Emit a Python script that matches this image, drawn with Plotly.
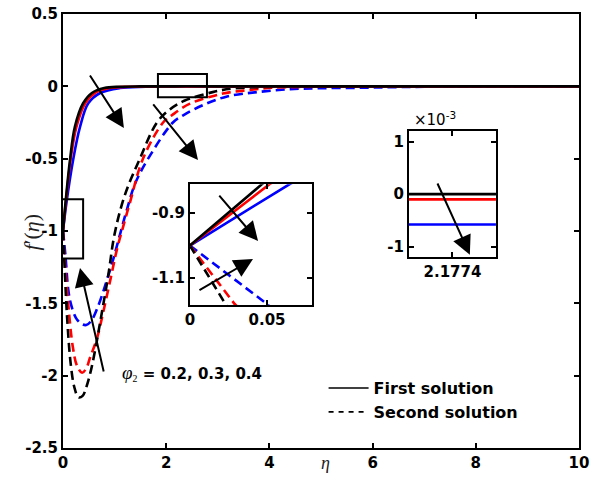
import plotly.graph_objects as go

# ---------------- data ----------------
# first solutions (solid)
eta_s_black = [0, 0.047, 0.135, 0.23, 0.39, 0.56, 0.8, 1.1, 1.5, 2.1774, 3, 10]
f_s_black = [-1.0, -0.81, -0.51, -0.28, -0.117, -0.046, -0.012, -0.003, -0.0005, 0.0, 0.0, 0.0]
eta_s_red = [0, 0.052, 0.15, 0.26, 0.43, 0.62, 0.9, 1.3, 1.7, 2.1774, 3, 10]
f_s_red = [-1.0, -0.81, -0.5, -0.28, -0.117, -0.046, -0.012, -0.003, -0.0008, -0.0001, 0.0, 0.0]
eta_s_blue = [0, 0.065, 0.2, 0.33, 0.49, 0.72, 1.1, 1.6, 2.1774, 3, 4, 10]
f_s_blue = [-1.0, -0.81, -0.5, -0.28, -0.117, -0.046, -0.012, -0.003, -0.00058, -0.0001, 0.0, 0.0]

# second solutions (dashed)
eta_d_black = [0, 0.023, 0.08, 0.15, 0.22, 0.3, 0.38, 0.46, 0.55, 0.65, 0.75, 0.88,
               1.0, 1.2, 1.49, 1.82, 2.07, 2.35, 2.9, 3.3, 4.0, 5.0, 10]
f_d_black = [-1.0, -1.18, -1.6, -1.92, -2.08, -2.15, -2.14, -2.07, -1.95, -1.77, -1.57, -1.3,
             -1.02, -0.75, -0.5, -0.25, -0.16, -0.1, -0.04, -0.015, -0.004, 0.0, 0.0]
eta_d_red = [0, 0.029, 0.1, 0.19, 0.27, 0.37, 0.45, 0.52, 0.66, 0.78, 0.91, 1.05,
             1.15, 1.3, 1.55, 1.94, 2.11, 2.46, 3.1, 3.62, 4.07, 5.0, 6.0, 10]
f_d_red = [-1.0, -1.18, -1.5, -1.8, -1.93, -1.98, -1.95, -1.88, -1.74, -1.56, -1.35, -1.12,
           -0.99, -0.8, -0.5, -0.25, -0.2, -0.12, -0.05, -0.025, -0.01, -0.002, 0.0, 0.0]
eta_d_blue = [0, 0.05, 0.1, 0.15, 0.25, 0.35, 0.45, 0.55, 0.68, 0.85, 0.97, 1.1, 1.24, 1.4,
              1.65, 2.13, 2.33, 2.71, 3.18, 3.76, 4.4, 5.0, 5.75, 6.5, 7.5, 10]
f_d_blue = [-1.0, -1.18, -1.4, -1.5, -1.6, -1.64, -1.65, -1.62, -1.52, -1.34, -1.2, -1.03, -0.85,
            -0.67, -0.5, -0.25, -0.2, -0.13, -0.07, -0.04, -0.02, -0.013, -0.01, -0.005, -0.002, 0.0]

main_x_ticks = [0, 2, 4, 6, 8, 10]
main_y_ticks = [0.5, 0, -0.5, -1, -1.5, -2, -2.5]
main_y_text = ["0.5", "0", "-0.5", "-1", "-1.5", "-2", "-2.5"]
in1_x_ticks = [0, 0.05]
in1_x_text = ["0", "0.05"]
in1_y_ticks = [-0.9, -1.1]
in1_y_text = ["-0.9", "-1.1"]
in2_x_ticks = [2.1774]
in2_x_text = ["2.1774"]
in2_y_ticks = [0.001, 0.0, -0.001]
in2_y_text = ["1", "0", "-1"]

# ---------------- styling ----------------
BOLD = dict(family="DejaVu Sans", size=15, color="black", weight="bold")
LW = 2.6
DASH = "9px,5px"

curves = [
    (eta_d_blue, f_d_blue, "blue", DASH),
    (eta_d_red, f_d_red, "red", DASH),
    (eta_d_black, f_d_black, "black", DASH),
    (eta_s_blue, f_s_blue, "blue", "solid"),
    (eta_s_red, f_s_red, "red", "solid"),
    (eta_s_black, f_s_black, "black", "solid"),
]

fig = go.Figure()
for xs, ys, col, dash in curves:
    fig.add_trace(go.Scatter(x=xs, y=ys, mode="lines", showlegend=False,
                             line=dict(color=col, width=LW, dash=dash, shape="spline"),
                             xaxis="x", yaxis="y"))
for xs, ys, col, dash in curves:
    fig.add_trace(go.Scatter(x=xs, y=ys, mode="lines", showlegend=False,
                             line=dict(color=col, width=LW, dash=dash),
                             xaxis="x2", yaxis="y2"))
for xs, ys, col, dash in curves:
    if dash == "solid":
        fig.add_trace(go.Scatter(x=xs, y=ys, mode="lines", showlegend=False,
                                 line=dict(color=col, width=LW),
                                 xaxis="x3", yaxis="y3"))

# legend entries
fig.add_trace(go.Scatter(x=[None], y=[None], mode="lines", name="First solution",
                         line=dict(color="black", width=1.5)))
fig.add_trace(go.Scatter(x=[None], y=[None], mode="lines", name="Second solution",
                         line=dict(color="black", width=1.8, dash="5px,5px")))

def axis_style(**kw):
    d = dict(showline=True, linecolor="black", linewidth=2, mirror="ticks",
             ticks="inside", ticklen=5, tickwidth=1.5, tickcolor="black",
             showgrid=False, zeroline=False, tickfont=BOLD, automargin=False)
    d.update(kw)
    return d

fig.update_layout(
    width=592, height=481,
    margin=dict(l=63, r=13, t=14, b=33, autoexpand=False),
    paper_bgcolor="white", plot_bgcolor="white",
    xaxis=axis_style(domain=[0, 1], range=[0, 10], tickvals=main_x_ticks, anchor="y"),
    yaxis=axis_style(domain=[0, 1], range=[-2.5, 0.5], tickvals=main_y_ticks,
                     ticktext=main_y_text, anchor="x"),
    xaxis2=axis_style(domain=[0.246, 0.4826], range=[0, 0.0792], tickvals=in1_x_ticks,
                      ticktext=in1_x_text, anchor="y2"),
    yaxis2=axis_style(domain=[0.3295, 0.608], range=[-1.183, -0.811], tickvals=in1_y_ticks,
                      ticktext=in1_y_text, anchor="x2"),
    xaxis3=axis_style(domain=[0.6705, 0.839], range=[2.1773, 2.1775], tickvals=in2_x_ticks,
                      ticktext=in2_x_text, anchor="y3"),
    yaxis3=axis_style(domain=[0.44, 0.73], range=[-0.0012, 0.0012], tickvals=in2_y_ticks,
                      ticktext=in2_y_text, anchor="x3"),
    showlegend=True,
    legend=dict(x=0.505, y=0.177, xanchor="left", yanchor="top",
                bgcolor="rgba(0,0,0,0)", itemwidth=40,
                font=dict(family="DejaVu Sans", size=16, color="black", weight="bold"),
                tracegroupgap=0, itemclick=False),
)

# zoom indicator rectangles
rects = [(-0.06, -1.19, 0.39, -0.78), (1.84, -0.075, 2.79, 0.085)]
for x0, y0, x1, y1 in rects:
    fig.add_shape(type="rect", xref="x", yref="y", x0=x0, y0=y0, x1=x1, y1=y1,
                  line=dict(color="black", width=2))

# arrows: (head_x, head_y, tail_x, tail_y, axis suffix)
arrows = [
    (1.18, -0.288, 0.504, 0.085, ""),
    (2.616, -0.509, 1.725, -0.115, ""),
    (0.329, -1.255, 0.795, -1.981, ""),
    (0.0442, -0.986, 0.0182, -0.8415, "2"),
    (0.0409, -1.0415, 0.0052, -1.14, "2"),
    (2.177440, -0.001154, 2.177364, 0.000231, "3"),
]
for hx, hy, tx, ty, s in arrows:
    fig.add_annotation(x=hx, y=hy, ax=tx, ay=ty, xref="x" + s, yref="y" + s,
                       axref="x" + s, ayref="y" + s, showarrow=True, text="",
                       arrowhead=2, arrowsize=1.9, arrowwidth=2, arrowcolor="black")

fig.add_annotation(x=1.105, y=-1.981, xref="x", yref="y", xanchor="left", showarrow=False,
                   text='<span style="font-family:Liberation Serif;font-weight:normal;font-size:19px"><i>φ</i></span>'
                        '<span style="font-family:Liberation Serif;font-weight:normal;font-size:14px"><sub>2</sub></span>'
                        '<b> = 0.2, 0.3, 0.4</b>',
                   font=dict(family="DejaVu Sans", size=15, color="black"))
fig.add_annotation(x=-0.0891, y=0.498, xref="paper", yref="paper", textangle=-90, showarrow=False,
                   text="<i>f</i>′(<i>η</i>)",
                   font=dict(family="Liberation Serif", size=22, color="#222"))
fig.add_annotation(x=0.508, y=-0.062, xref="paper", yref="paper", showarrow=False,
                   text="<i>η</i>", font=dict(family="Liberation Serif", size=18, color="#222"))
fig.add_annotation(x=0.676, y=0.73, xref="paper", yref="paper", xanchor="left", yanchor="bottom",
                   showarrow=False,
                   text="×10<sup>-3</sup>", font=dict(family="DejaVu Sans", size=15, color="black"))

fig.write_html("out.html")
